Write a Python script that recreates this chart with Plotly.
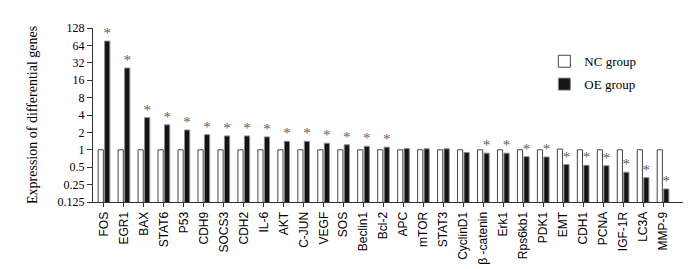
import plotly.graph_objects as go

genes = ["FOS", "EGR1", "BAX", "STAT6", "P53", "CDH9", "SOCS3", "CDH2", "IL-6", "AKT",
         "C-JUN", "VEGF", "SOS", "Beclin1", "Bcl-2", "APC", "mTOR", "STAT3", "CyclinD1",
         "β -catenin", "Erk1", "Rps6kb1", "PDK1", "EMT", "CDH1", "PCNA", "IGF-1R", "LC3A", "MMP-9"]
nc_values = [1, 1, 1, 1, 1, 1, 1, 1, 1, 1,
             1, 1, 1, 1, 1, 1, 1, 1, 1,
             1, 1, 1, 1, 1.03, 1, 1, 1, 1, 1]
oe_values = [76, 26, 3.6, 2.7, 2.2, 1.83, 1.74, 1.74, 1.67, 1.40,
             1.40, 1.30, 1.22, 1.15, 1.11, 1.05, 1.04, 1.04, 0.90,
             0.875, 0.875, 0.76, 0.75, 0.555, 0.54, 0.53, 0.41, 0.33, 0.21]
significant = [1, 1, 1, 1, 1, 1, 1, 1, 1, 1,
               1, 1, 1, 1, 1, 0, 0, 0, 0,
               1, 1, 1, 1, 1, 1, 1, 1, 1, 1]
y_ticks = [0.125, 0.25, 0.5, 1, 2, 4, 8, 16, 32, 64, 128]
y_tick_labels = ["0.125", "0.25", "0.5", "1", "2", "4", "8", "16", "32", "64", "128"]
y_title = "Expression of differential genes"

serif = "Liberation Serif, Times New Roman, serif"
sans = "Liberation Sans, Arial, sans-serif"

fig = go.Figure()
fig.add_trace(go.Bar(
    x=genes, y=nc_values, name="NC group",
    marker=dict(color="white", line=dict(color="#444444", width=1)),
    legendgroup="nc",
))
fig.add_trace(go.Bar(
    x=genes, y=oe_values, name="OE group",
    marker=dict(color="#141414", line=dict(color="#8a8a8a", width=1)),
    text=["*" if s else "" for s in significant],
    textposition="outside", constraintext="none", cliponaxis=False,
    textfont=dict(family=serif, size=15, color="#606060"),
    outsidetextfont=dict(family=serif, size=15, color="#606060"),
    legendgroup="oe",
))

fig.add_annotation(
    text=y_title, xref="paper", yref="paper", x=0, y=0.5,
    xanchor="center", yanchor="middle", xshift=-61, textangle=-90,
    showarrow=False, font=dict(family=serif, size=14, color="black"),
)

fig.update_layout(
    width=700, height=269,
    margin=dict(l=85, r=25, t=20, b=72),
    paper_bgcolor="white", plot_bgcolor="white",
    barmode="group", bargap=0.35, bargroupgap=0.2,
    font=dict(family=serif, size=12, color="black"),
    showlegend=True,
    legend=dict(x=0.765, y=0.895, xanchor="left", yanchor="top",
                font=dict(family=serif, size=13, color="black"),
                bgcolor="rgba(0,0,0,0)", tracegroupgap=3),
    xaxis=dict(
        type="category", range=[-0.55, 29.0],
        showline=True, linecolor="#333333", linewidth=1,
        ticks="outside", ticklen=4, tickcolor="#333333",
        tickangle=-90, tickfont=dict(family=sans, size=12, color="black"),
        showgrid=False, zeroline=False,
    ),
    yaxis=dict(
        type="log", range=[-0.9031, 2.1072],
        tickvals=y_ticks, ticktext=y_tick_labels,
        showline=True, linecolor="#333333", linewidth=1,
        ticks="outside", ticklen=5, tickcolor="#333333",
        tickfont=dict(family=serif, size=12, color="black"),
        showgrid=False, zeroline=False,
    ),
)

fig.write_html("out.html")
